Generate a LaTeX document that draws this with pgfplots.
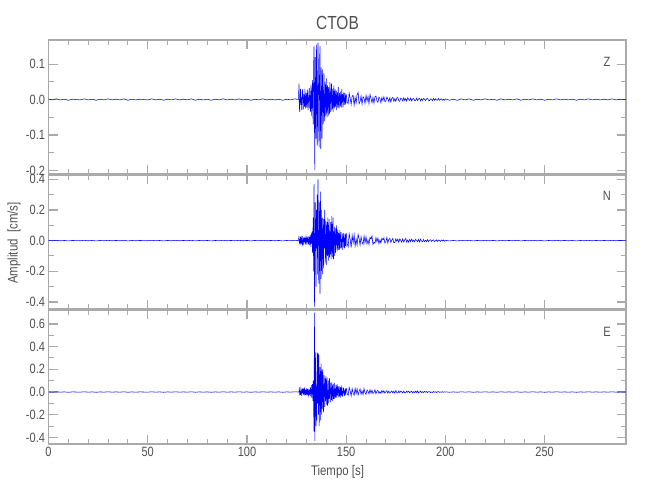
\documentclass[border=0pt]{standalone}
\usepackage{fontspec}
\setmainfont{Liberation Sans}[FakeStretch=0.82]
\usepackage{pgfplots}
\usepackage{pgfplotstable}
\pgfplotsset{compat=1.18}
\definecolor{axgray}{RGB}{170,170,170}
\definecolor{txtgray}{RGB}{80,80,80}

% pre-event noise, 0..126 s every 2 s
\pgfplotstableread[row sep=\\]{y\\
0.001\\-0.001\\0.002\\-0.001\\0.001\\-0.002\\0.001\\0.000\\-0.001\\0.002\\
-0.001\\0.001\\-0.002\\0.001\\-0.001\\0.002\\-0.001\\0.001\\-0.001\\0.002\\
-0.002\\0.001\\-0.001\\0.001\\0.000\\-0.001\\0.002\\-0.001\\0.001\\-0.002\\
0.001\\-0.001\\0.002\\-0.001\\0.001\\-0.001\\0.002\\-0.002\\0.001\\-0.001\\
0.001\\-0.002\\0.001\\-0.001\\0.002\\-0.001\\0.001\\-0.001\\0.002\\-0.001\\
0.001\\-0.002\\0.001\\-0.001\\0.002\\-0.001\\0.001\\-0.001\\0.001\\-0.002\\
0.001\\-0.001\\0.002\\0.000\\
}\prenoise

% late coda noise, 200..292 s every 2 s
\pgfplotstableread[row sep=\\]{y\\
0.002\\-0.002\\0.001\\-0.002\\0.002\\-0.001\\0.002\\-0.002\\0.001\\-0.001\\
0.002\\-0.001\\0.001\\-0.002\\0.002\\-0.001\\0.001\\-0.001\\0.002\\-0.002\\
0.001\\-0.001\\0.002\\-0.001\\0.001\\-0.002\\0.001\\-0.001\\0.002\\-0.001\\
0.001\\-0.001\\0.001\\-0.002\\0.001\\-0.001\\0.002\\-0.001\\0.001\\-0.001\\
0.001\\-0.001\\0.002\\-0.001\\0.001\\0.000\\0.001\\
}\tailnoise

% ---------- Z : 126..150 s every 0.2 s
\pgfplotstableread[row sep=\\]{y\\
0.000\\0.045\\-0.020\\-0.035\\0.010\\0.030\\-0.015\\0.005\\-0.030\\0.020\\
0.025\\-0.010\\-0.028\\0.015\\0.008\\-0.020\\0.030\\-0.012\\-0.025\\0.018\\
0.005\\-0.022\\0.028\\0.010\\-0.030\\-0.008\\0.020\\0.032\\-0.025\\0.012\\
-0.035\\0.040\\0.015\\-0.045\\0.030\\0.055\\-0.040\\-0.070\\0.090\\0.150\\
-0.060\\-0.200\\0.120\\0.030\\-0.110\\0.155\\0.060\\-0.130\\-0.050\\0.160\\
0.080\\-0.100\\-0.135\\0.110\\0.150\\-0.060\\-0.140\\0.090\\0.020\\-0.110\\
0.085\\0.030\\-0.070\\-0.030\\0.075\\-0.040\\-0.060\\0.050\\0.010\\-0.045\\
0.060\\-0.015\\-0.050\\0.040\\0.020\\-0.045\\0.035\\-0.010\\-0.040\\0.050\\
0.015\\-0.035\\0.020\\0.045\\-0.030\\-0.010\\0.030\\-0.035\\0.010\\0.040\\
-0.025\\-0.015\\0.030\\-0.020\\0.010\\0.025\\-0.030\\0.005\\0.020\\-0.022\\
0.035\\-0.010\\-0.025\\0.018\\0.008\\-0.020\\0.022\\-0.012\\-0.018\\0.030\\
-0.008\\0.015\\-0.022\\0.010\\0.020\\-0.015\\-0.005\\0.018\\-0.014\\0.012\\
-0.010\\
}\Zmain
% Z : 150..200 s every 0.5 s
\pgfplotstableread[row sep=\\]{y\\
0.015\\-0.008\\-0.012\\0.018\\0.004\\-0.014\\0.010\\0.012\\-0.016\\0.006\\
-0.010\\0.014\\0.020\\-0.012\\-0.006\\0.010\\-0.013\\0.008\\0.004\\-0.011\\
0.012\\-0.005\\0.009\\-0.012\\0.014\\0.003\\-0.009\\0.006\\-0.010\\0.008\\
0.010\\-0.004\\-0.008\\0.007\\0.003\\-0.009\\0.006\\-0.003\\0.008\\-0.006\\
-0.004\\0.007\\0.002\\-0.006\\0.005\\-0.007\\0.004\\0.006\\-0.005\\0.002\\
-0.005\\0.004\\0.006\\-0.003\\-0.005\\0.004\\0.002\\-0.004\\0.005\\-0.003\\
0.003\\-0.004\\0.005\\0.001\\-0.003\\0.004\\-0.004\\0.002\\0.003\\-0.003\\
-0.002\\0.004\\-0.003\\0.002\\0.003\\-0.004\\0.002\\-0.002\\0.003\\0.001\\
-0.003\\0.002\\0.003\\-0.002\\-0.003\\0.002\\0.001\\-0.003\\0.003\\-0.002\\
0.002\\-0.001\\-0.002\\0.003\\-0.002\\0.001\\0.002\\-0.002\\0.001\\-0.002\\
0.001\\
}\Zmid

% ---------- N : 126..150 s every 0.2 s
\pgfplotstableread[row sep=\\]{y\\
0.000\\0.030\\-0.020\\0.010\\-0.030\\0.025\\0.005\\-0.022\\0.028\\-0.010\\
-0.025\\0.020\\0.012\\-0.030\\0.018\\-0.008\\0.026\\-0.020\\-0.012\\0.024\\
0.008\\-0.028\\0.020\\-0.010\\0.030\\-0.024\\-0.006\\0.022\\-0.030\\0.035\\
0.010\\-0.040\\0.045\\-0.020\\0.060\\-0.080\\0.030\\0.150\\-0.200\\0.370\\
-0.430\\-0.150\\0.250\\0.080\\-0.300\\0.200\\-0.050\\0.300\\-0.220\\0.400\\
0.150\\-0.280\\-0.100\\0.250\\-0.345\\0.320\\0.050\\-0.250\\0.200\\-0.120\\
-0.220\\0.150\\0.060\\-0.180\\0.140\\-0.050\\0.200\\-0.150\\-0.080\\0.130\\
-0.160\\0.040\\0.120\\-0.100\\0.150\\-0.130\\-0.030\\0.140\\-0.110\\0.060\\
-0.090\\0.120\\-0.120\\0.040\\0.160\\-0.110\\-0.050\\0.150\\-0.120\\0.060\\
-0.100\\0.090\\0.020\\-0.080\\0.080\\-0.030\\0.100\\-0.070\\-0.020\\0.070\\
-0.060\\0.050\\0.010\\-0.060\\0.070\\-0.050\\0.030\\0.055\\-0.045\\0.010\\
-0.060\\0.045\\-0.010\\0.050\\-0.045\\0.020\\-0.050\\0.045\\-0.035\\0.040\\
-0.040\\
}\Nmain
% N : 150..200 s every 0.5 s
\pgfplotstableread[row sep=\\]{y\\
0.050\\-0.020\\-0.040\\0.045\\0.010\\-0.045\\0.035\\-0.015\\0.040\\-0.035\\
0.010\\-0.030\\0.040\\0.015\\-0.030\\0.025\\-0.010\\-0.025\\0.030\\-0.015\\
0.025\\-0.022\\0.005\\-0.025\\0.022\\0.010\\0.030\\-0.025\\-0.010\\-0.018\\
0.020\\-0.008\\0.016\\-0.020\\0.005\\-0.015\\0.016\\0.004\\0.018\\-0.015\\
-0.006\\0.020\\-0.016\\0.008\\0.015\\-0.012\\0.003\\0.014\\-0.012\\-0.013\\
0.012\\-0.004\\0.010\\-0.012\\0.011\\0.002\\-0.010\\0.012\\-0.009\\0.004\\
0.013\\-0.010\\0.004\\-0.010\\0.008\\-0.006\\0.010\\-0.008\\0.003\\-0.008\\
0.008\\0.002\\-0.007\\0.008\\-0.009\\0.010\\-0.003\\-0.008\\0.007\\-0.006\\
0.002\\-0.006\\0.006\\-0.007\\0.003\\0.006\\-0.005\\0.002\\0.005\\-0.006\\
-0.002\\0.005\\-0.005\\0.004\\0.001\\-0.005\\0.004\\-0.002\\0.004\\-0.004\\
0.003\\
}\Nmid

% ---------- E : 126..150 s every 0.2 s
\pgfplotstableread[row sep=\\]{y\\
0.000\\0.000\\0.040\\-0.030\\0.010\\-0.025\\0.030\\0.005\\-0.035\\0.025\\
-0.010\\0.035\\-0.020\\0.008\\-0.032\\0.030\\0.012\\-0.025\\0.022\\-0.030\\
0.005\\0.035\\-0.028\\0.025\\-0.010\\-0.030\\0.030\\-0.022\\0.020\\-0.035\\
0.040\\0.010\\-0.050\\0.060\\-0.020\\0.070\\-0.080\\0.100\\-0.150\\-0.350\\
0.700\\-0.430\\0.150\\0.350\\-0.300\\0.050\\-0.250\\0.350\\-0.100\\0.340\\
-0.200\\0.330\\-0.300\\0.100\\0.220\\-0.250\\0.080\\0.250\\-0.200\\0.180\\
-0.150\\0.200\\-0.050\\-0.180\\0.150\\0.040\\-0.130\\0.120\\-0.080\\0.140\\
-0.110\\0.030\\0.130\\-0.120\\0.020\\-0.100\\0.100\\-0.060\\0.120\\-0.040\\
-0.090\\0.080\\0.020\\-0.070\\0.090\\-0.080\\0.010\\0.070\\-0.060\\-0.020\\
0.080\\-0.060\\0.030\\-0.050\\0.060\\0.010\\-0.050\\0.070\\-0.030\\0.050\\
-0.045\\0.020\\0.050\\-0.040\\-0.010\\0.045\\-0.050\\0.030\\0.045\\-0.035\\
0.010\\-0.040\\0.040\\-0.010\\0.035\\-0.035\\0.015\\-0.030\\0.030\\-0.020\\
0.030\\
}\Emain
% E : 150..200 s every 0.5 s
\pgfplotstableread[row sep=\\]{y\\
0.035\\-0.015\\-0.030\\0.040\\0.010\\-0.035\\0.030\\-0.010\\-0.028\\0.032\\
-0.015\\0.030\\-0.026\\0.005\\0.028\\-0.020\\0.010\\-0.022\\0.030\\-0.008\\
-0.020\\0.018\\0.006\\-0.016\\0.020\\-0.010\\0.016\\-0.014\\-0.004\\0.020\\
-0.015\\0.008\\0.014\\-0.012\\0.004\\-0.011\\0.013\\-0.006\\0.011\\-0.010\\
0.003\\0.012\\-0.010\\0.008\\-0.009\\0.002\\0.010\\-0.008\\0.006\\-0.009\\
0.012\\-0.004\\-0.010\\0.009\\-0.006\\0.008\\0.002\\-0.008\\0.007\\-0.005\\
-0.007\\0.008\\-0.003\\0.007\\-0.006\\0.002\\0.006\\-0.007\\0.004\\-0.006\\
0.008\\-0.004\\0.010\\-0.008\\0.002\\0.007\\-0.006\\0.003\\-0.005\\0.006\\
-0.002\\0.005\\-0.005\\0.003\\0.004\\-0.005\\0.001\\-0.004\\0.004\\-0.002\\
0.003\\-0.004\\0.002\\0.004\\-0.003\\0.001\\-0.003\\0.003\\-0.002\\0.002\\
-0.002\\
}\Emid

\pgfplotsset{
 seis/.style={
  scale only axis, width=577.5bp, height=134bp, anchor=south west,
  xmin=0, xmax=291, xtick={0,50,...,250}, minor x tick num=4, minor y tick num=1,
  axis line style={draw=axgray, line width=1.5bp},
  major tick style={draw=axgray, line width=1.2bp},
  minor tick style={draw=axgray, line width=1bp},
  major tick length=9bp, minor tick length=5bp,
  tick label style={font=\fontsize{13.5}{13.5}\selectfont, text=txtgray},
  /pgf/number format/assume math mode=true,
  yticklabel style={/pgf/number format/.cd, fixed, fixed zerofill, precision=1},
 },
 tr/.style={blue, line width=0.55bp, no markers},
}
\tikzset{comp/.style={font=\fontsize{13.5}{13.5}\selectfont, text=txtgray}}

\begin{document}
\begin{tikzpicture}
\useasboundingbox (0,0) rectangle (650bp,500bp);

\begin{axis}[seis, at={(48.5bp,326bp)}, ymin=-0.21, ymax=0.168,
  ytick={-0.2,-0.1,0,0.1}, xticklabel=\empty]
\addplot[tr] table[x expr={2*\coordindex}, y=y] {\prenoise};
\addplot[tr] table[x expr={126+0.2*\coordindex}, y=y] {\Zmain};
\addplot[tr] table[x expr={150+0.5*\coordindex}, y=y] {\Zmid};
\addplot[tr] table[x expr={200+2*\coordindex}, y=y] {\tailnoise};
\node[comp] at (rel axis cs:0.967,0.84) {Z};
\end{axis}

\begin{axis}[seis, at={(48.5bp,191bp)}, ymin=-0.446, ymax=0.428,
  ytick={-0.4,-0.2,0,0.2,0.4}, xticklabel=\empty]
\addplot[tr] table[x expr={2*\coordindex}, y=y] {\prenoise};
\addplot[tr] table[x expr={126+0.2*\coordindex}, y=y] {\Nmain};
\addplot[tr] table[x expr={150+0.5*\coordindex}, y=y] {\Nmid};
\addplot[tr] table[x expr={200+2*\coordindex}, y=y] {\tailnoise};
\node[comp] at (rel axis cs:0.967,0.843) {N};
\end{axis}

\begin{axis}[seis, at={(48.5bp,56bp)}, ymin=-0.458, ymax=0.723,
  ytick={-0.4,-0.2,0,0.2,0.4,0.6}]
\addplot[tr] table[x expr={2*\coordindex}, y=y] {\prenoise};
\addplot[tr] table[x expr={126+0.2*\coordindex}, y=y] {\Emain};
\addplot[tr] table[x expr={150+0.5*\coordindex}, y=y] {\Emid};
\addplot[tr] table[x expr={200+2*\coordindex}, y=y] {\tailnoise};
\node[comp] at (rel axis cs:0.967,0.838) {E};
\end{axis}

\node[font=\fontsize{19}{19}\selectfont, text=txtgray] at (337.5bp,477bp) {CTOB};
\node[font=\fontsize{14}{14}\selectfont, text=txtgray] at (337.5bp,28.5bp) {Tiempo [s]};
\node[font=\fontsize{14}{14}\selectfont, text=txtgray, rotate=90] at (14bp,257bp) {Amplitud\ \ [cm/s]};
\end{tikzpicture}
\end{document}
